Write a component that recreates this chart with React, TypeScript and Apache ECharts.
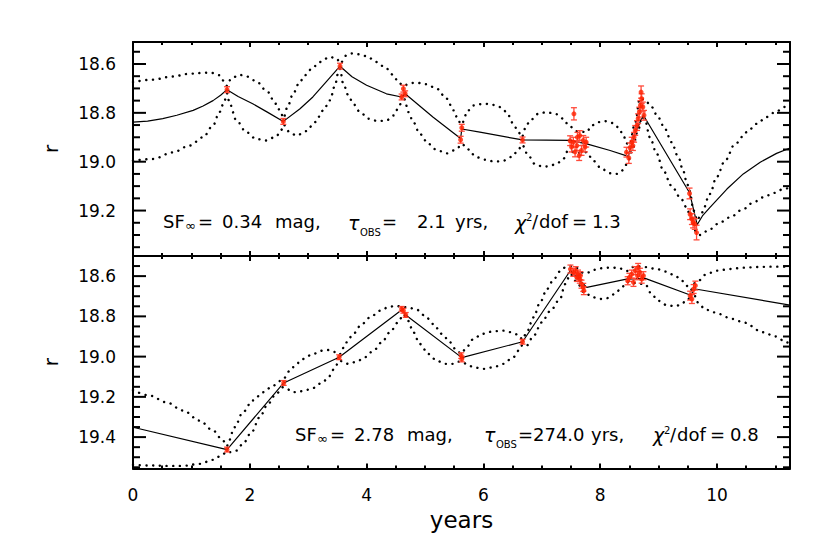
import React, { useEffect, useRef } from "react";
import * as echarts from "echarts";

// ---------------- DATA ----------------
const X_MIN = 0;
const X_MAX = 11.25;
const TOP_Y_RANGE = [18.51, 19.386];
const BOT_Y_RANGE = [18.5, 19.556];

// y tick values (0.2 major, 0.05 minor)
const topYTicks = [
  18.55, 18.6, 18.65, 18.7, 18.75, 18.8, 18.85, 18.9, 18.95, 19.0,
  19.05, 19.1, 19.15, 19.2, 19.25, 19.3, 19.35,
];
const botYTicks = [
  18.55, 18.6, 18.65, 18.7, 18.75, 18.8, 18.85, 18.9, 18.95, 19.0,
  19.05, 19.1, 19.15, 19.2, 19.25, 19.3, 19.35, 19.4, 19.45, 19.5, 19.55,
];

// observations [year, r mag, error]
const topObs: [number, number, number][] = [
  [1.61, 18.705, 0.012], [2.574, 18.835, 0.012], [3.545, 18.609, 0.012],
  [4.6, 18.735, 0.012], [4.63, 18.701, 0.014], [4.66, 18.722, 0.012],
  [5.61, 18.91, 0.014], [5.63, 18.861, 0.014], [6.67, 18.911, 0.012],
  [7.485, 18.914, 0.02], [7.51, 18.94, 0.02], [7.54, 18.92, 0.02], [7.55, 18.804, 0.025],
  [7.57, 18.96, 0.02], [7.6, 18.934, 0.02], [7.61, 18.9, 0.02], [7.64, 18.975, 0.02],
  [7.65, 18.893, 0.02], [7.68, 18.954, 0.02], [7.71, 18.913, 0.02], [7.74, 18.94, 0.02],
  [7.76, 18.92, 0.02],
  [8.45, 18.961, 0.02], [8.49, 18.985, 0.022], [8.51, 18.943, 0.02], [8.54, 18.92, 0.02],
  [8.56, 18.934, 0.02], [8.58, 18.9, 0.02], [8.6, 18.872, 0.02], [8.63, 18.852, 0.02],
  [8.65, 18.824, 0.02], [8.67, 18.797, 0.02], [8.69, 18.77, 0.02], [8.7, 18.715, 0.025],
  [8.71, 18.742, 0.02], [8.73, 18.776, 0.02], [8.75, 18.81, 0.02],
  [9.53, 19.13, 0.022], [9.54, 19.215, 0.022], [9.57, 19.235, 0.022], [9.59, 19.249, 0.022],
  [9.62, 19.255, 0.022], [9.65, 19.29, 0.03],
];

const botObs: [number, number, number][] = [
  [1.61, 19.462, 0.012], [2.58, 19.131, 0.012], [3.53, 19.003, 0.012],
  [4.6, 18.763, 0.012], [4.63, 18.772, 0.012], [4.67, 18.793, 0.012],
  [5.62, 18.995, 0.014], [5.63, 19.012, 0.014], [6.67, 18.926, 0.012],
  [7.49, 18.565, 0.02], [7.54, 18.581, 0.02], [7.58, 18.573, 0.02], [7.6, 18.606, 0.02],
  [7.62, 18.59, 0.02], [7.65, 18.615, 0.02], [7.66, 18.598, 0.02], [7.68, 18.64, 0.02],
  [7.71, 18.656, 0.02], [7.72, 18.672, 0.02],
  [8.47, 18.623, 0.02], [8.5, 18.606, 0.02], [8.54, 18.59, 0.02], [8.57, 18.631, 0.02],
  [8.6, 18.573, 0.02], [8.64, 18.598, 0.02], [8.65, 18.557, 0.02], [8.68, 18.581, 0.02],
  [8.71, 18.615, 0.02], [8.74, 18.598, 0.02],
  [9.54, 18.697, 0.022], [9.57, 18.714, 0.022], [9.6, 18.664, 0.022], [9.63, 18.647, 0.022],
];

// model light curves (solid) and +/- 1 sigma envelopes (dotted)
const topModel: [number, number][] = [
  [0, 18.838], [0.25, 18.834], [0.51, 18.824], [0.75, 18.81], [1.03, 18.79], [1.2, 18.772],
  [1.37, 18.75], [1.5, 18.728], [1.61, 18.705],
  [1.8, 18.733], [2.05, 18.763], [2.3, 18.797], [2.574, 18.835], [2.86, 18.783], [3.08, 18.735],
  [3.3, 18.675], [3.545, 18.609],
  [3.75, 18.652], [4.0, 18.687], [4.34, 18.722], [4.6, 18.735], [4.66, 18.722], [5.14, 18.818],
  [5.61, 18.905], [5.63, 18.866], [5.94, 18.879], [6.67, 18.911], [7.48, 18.913],
  [7.77, 18.927], [8.17, 18.954], [8.48, 18.978], [8.6, 18.88], [8.74, 18.81],
  [9.53, 19.127], [9.66, 19.258], [9.75, 19.222], [9.88, 19.187], [10.17, 19.112], [10.45, 19.05],
  [10.74, 19.002], [11.02, 18.966], [11.25, 18.944],
];

const topUpper: [number, number][] = [
  [0, 18.674], [0.34, 18.664], [0.68, 18.651], [0.97, 18.64], [1.23, 18.636], [1.37, 18.637],
  [1.48, 18.646], [1.57, 18.674], [1.61, 18.69],
  [1.68, 18.66], [1.82, 18.644], [1.94, 18.651], [2.11, 18.67], [2.28, 18.708], [2.45, 18.763],
  [2.54, 18.804], [2.574, 18.822],
  [2.654, 18.77], [2.74, 18.722], [2.854, 18.674], [2.945, 18.646], [3.088, 18.612], [3.2, 18.592],
  [3.37, 18.571], [3.49, 18.578], [3.545, 18.598],
  [3.66, 18.564], [3.75, 18.557], [3.86, 18.56], [4.0, 18.568], [4.17, 18.592], [4.34, 18.619],
  [4.46, 18.646], [4.54, 18.674], [4.63, 18.69],
  [4.75, 18.678], [4.86, 18.677], [5.03, 18.683], [5.2, 18.701], [5.37, 18.742], [5.49, 18.79],
  [5.57, 18.831], [5.62, 18.848],
  [5.74, 18.79], [5.83, 18.77], [5.91, 18.765], [6.03, 18.763], [6.14, 18.766], [6.26, 18.774],
  [6.34, 18.787], [6.43, 18.811], [6.51, 18.845], [6.6, 18.879], [6.66, 18.9],
  [6.71, 18.866], [6.8, 18.831], [6.94, 18.804], [7.08, 18.797], [7.23, 18.804], [7.37, 18.824],
  [7.46, 18.852], [7.6, 18.875], [7.77, 18.879],
  [7.85, 18.852], [7.97, 18.838], [8.11, 18.834], [8.22, 18.842], [8.31, 18.859], [8.4, 18.893],
  [8.45, 18.925], [8.5, 18.93], [8.6, 18.84], [8.68, 18.74], [8.76, 18.745],
  [8.88, 18.776], [8.99, 18.818], [9.11, 18.866], [9.22, 18.92], [9.34, 18.982], [9.42, 19.037],
  [9.49, 19.091], [9.53, 19.12], [9.6, 19.2], [9.66, 19.24],
  [9.74, 19.208], [9.88, 19.132], [9.99, 19.064], [10.14, 18.995], [10.31, 18.927], [10.51, 18.879],
  [10.68, 18.845], [10.85, 18.817], [11.02, 18.793], [11.19, 18.774], [11.25, 18.77],
];

const topLower: [number, number][] = [
  [0, 18.996], [0.34, 18.989], [0.68, 18.962], [0.97, 18.934], [1.2, 18.9], [1.37, 18.852],
  [1.48, 18.797], [1.57, 18.749], [1.61, 18.72],
  [1.655, 18.763], [1.77, 18.831], [1.94, 18.879], [2.11, 18.907], [2.28, 18.913], [2.45, 18.897],
  [2.54, 18.87], [2.574, 18.848],
  [2.683, 18.879], [2.797, 18.893], [2.968, 18.875], [3.116, 18.838], [3.26, 18.79], [3.37, 18.749],
  [3.46, 18.688], [3.51, 18.64], [3.545, 18.62],
  [3.6, 18.681], [3.69, 18.729], [3.77, 18.763], [3.89, 18.797], [4.03, 18.824], [4.2, 18.834],
  [4.34, 18.831], [4.46, 18.811], [4.54, 18.783], [4.6, 18.756], [4.65, 18.745],
  [4.715, 18.797], [4.8, 18.838], [4.91, 18.886], [5.06, 18.927], [5.2, 18.952], [5.37, 18.966],
  [5.49, 18.954], [5.57, 18.941], [5.63, 18.927],
  [5.71, 18.941], [5.8, 18.968], [5.89, 18.982], [6.03, 18.992], [6.2, 19.0], [6.34, 18.996],
  [6.49, 18.98], [6.6, 18.951], [6.66, 18.93],
  [6.77, 18.975], [6.88, 19.009], [7.0, 19.019], [7.11, 19.02], [7.25, 19.009], [7.37, 18.988],
  [7.45, 18.954], [7.6, 18.965], [7.77, 18.961],
  [7.88, 18.996], [8.03, 19.03], [8.17, 19.047], [8.28, 19.05], [8.37, 19.037], [8.43, 19.016],
  [8.48, 18.995], [8.55, 18.95], [8.65, 18.87], [8.72, 18.815], [8.77, 18.831],
  [8.85, 18.9], [8.97, 18.968], [9.08, 19.036], [9.22, 19.098], [9.37, 19.146], [9.48, 19.187],
  [9.55, 19.23], [9.65, 19.29],
  [9.71, 19.3], [9.88, 19.276], [10.05, 19.249], [10.22, 19.228], [10.45, 19.194], [10.62, 19.167],
  [10.79, 19.146], [10.97, 19.128], [11.14, 19.112], [11.25, 19.105],
];

const botModel: [number, number][] = [
  [0, 19.351], [1.61, 19.462], [2.58, 19.131], [3.53, 19.003], [4.61, 18.766], [4.67, 18.793],
  [5.63, 19.005], [6.67, 18.926], [7.49, 18.572], [7.77, 18.656], [8.45, 18.615], [8.77, 18.611],
  [9.54, 18.694], [9.63, 18.664], [11.25, 18.744],
];

const botUpper: [number, number][] = [
  [0, 19.166], [0.29, 19.194], [0.57, 19.227], [0.86, 19.268], [1.14, 19.318], [1.37, 19.367],
  [1.54, 19.417], [1.61, 19.445],
  [1.63, 19.425], [1.74, 19.351], [1.88, 19.277], [2.05, 19.218], [2.23, 19.177], [2.4, 19.144],
  [2.54, 19.119],
  [2.74, 19.053], [2.91, 19.012], [3.08, 18.987], [3.25, 18.97], [3.37, 18.967], [3.49, 18.98],
  [3.53, 18.99],
  [3.66, 18.929], [3.77, 18.887], [3.92, 18.838], [4.06, 18.805], [4.23, 18.772], [4.37, 18.755],
  [4.49, 18.747], [4.6, 18.752],
  [4.7, 18.755], [4.86, 18.767], [5.0, 18.797], [5.14, 18.838], [5.29, 18.887], [5.43, 18.929],
  [5.54, 18.97], [5.62, 18.985],
  [5.72, 18.95], [5.83, 18.912], [5.98, 18.887], [6.17, 18.874], [6.34, 18.871], [6.48, 18.879],
  [6.6, 18.892], [6.67, 18.915],
  [6.74, 18.879], [6.86, 18.805], [6.97, 18.731], [7.09, 18.664], [7.2, 18.618], [7.31, 18.577],
  [7.4, 18.557], [7.49, 18.55], [7.6, 18.56], [7.72, 18.585],
  [7.83, 18.581], [7.94, 18.565], [8.05, 18.56], [8.2, 18.557], [8.34, 18.562], [8.45, 18.575],
  [8.6, 18.55], [8.77, 18.555],
  [8.97, 18.565], [9.14, 18.578], [9.28, 18.598], [9.4, 18.623], [9.48, 18.648], [9.55, 18.67],
  [9.62, 18.635], [9.68, 18.623], [9.82, 18.59], [9.99, 18.573], [10.22, 18.565], [10.45, 18.558],
  [10.68, 18.555], [10.91, 18.553], [11.25, 18.553],
];

const botLower: [number, number][] = [
  [0, 19.538], [0.29, 19.541], [0.57, 19.543], [0.86, 19.543], [1.14, 19.533], [1.37, 19.513],
  [1.51, 19.492], [1.61, 19.472],
  [1.655, 19.475], [1.77, 19.467], [1.88, 19.434], [2.03, 19.376], [2.17, 19.301], [2.31, 19.235],
  [2.45, 19.185], [2.57, 19.152],
  [2.63, 19.16], [2.74, 19.177], [2.91, 19.172], [3.08, 19.156], [3.25, 19.127], [3.35, 19.1],
  [3.45, 19.06], [3.53, 19.02],
  [3.69, 19.036], [3.83, 19.025], [3.97, 19.003], [4.12, 18.97], [4.26, 18.929], [4.4, 18.879],
  [4.54, 18.83], [4.63, 18.79],
  [4.71, 18.822], [4.8, 18.879], [4.91, 18.937], [5.06, 18.987], [5.2, 19.02], [5.34, 19.036],
  [5.49, 19.036], [5.57, 19.025], [5.63, 19.025],
  [5.71, 19.036], [5.83, 19.053], [6.0, 19.061], [6.17, 19.053], [6.34, 19.036], [6.51, 19.003],
  [6.63, 18.962], [6.67, 18.94],
  [6.74, 18.945], [6.86, 18.896], [7.0, 18.83], [7.14, 18.775], [7.31, 18.715], [7.4, 18.64],
  [7.49, 18.59], [7.6, 18.63], [7.72, 18.68],
  [7.88, 18.705], [7.99, 18.714], [8.11, 18.71], [8.25, 18.689], [8.37, 18.656], [8.45, 18.63],
  [8.6, 18.635], [8.77, 18.64],
  [8.88, 18.689], [8.99, 18.722], [9.14, 18.744], [9.28, 18.75], [9.4, 18.739], [9.48, 18.714],
  [9.55, 18.71], [9.63, 18.7],
  [9.68, 18.735], [9.8, 18.765], [9.94, 18.78], [10.28, 18.813], [10.45, 18.83], [10.79, 18.879],
  [11.0, 18.9], [11.19, 18.929], [11.25, 18.935],
];

// annotation texts
const topStats = { sf: "0.34", tau: "2.1", chi: "1.3" };
const botStats = { sf: "2.78", tau: "274.0", chi: "0.8" };

// ---------------- STYLE ----------------
const FONT = "DejaVu Sans";
const PT_COLOR = "#ff2200";
const ERR_COLOR = "#ff4a3a";
const AX_W = 2;

const GRID_LEFT = 133;
const GRID_W = 657;
const TOP_GRID = { top: 42, height: 214 };
const BOT_GRID = { top: 256, height: 212.5 };

const isMajorY = (v: number) => Math.abs(v * 5 - Math.round(v * 5)) < 1e-6;

function xAxis(grid: number, pos: string, major: boolean, labels: boolean) {
  return {
    type: "value",
    gridIndex: grid,
    position: pos,
    min: X_MIN,
    max: X_MAX,
    interval: major ? 2 : 0.5,
    axisLine: { show: major, onZero: false, lineStyle: { color: "#000", width: AX_W } },
    axisTick: { show: true, inside: true, length: major ? 5 : 3, lineStyle: { color: "#000", width: AX_W } },
    axisLabel: labels
      ? {
          show: true,
          margin: 18,
          fontSize: 17,
          fontFamily: FONT,
          color: "#000",
          showMaxLabel: false,
          formatter: (v: number) => (Math.abs(v / 2 - Math.round(v / 2)) < 1e-6 ? String(Math.round(v)) : ""),
        }
      : { show: false },
    name: labels ? "years" : "",
    nameLocation: "middle",
    nameGap: 40,
    nameTextStyle: { fontSize: 23, fontFamily: FONT, color: "#000" },
    splitLine: { show: false },
    minorTick: { show: false },
    minorSplitLine: { show: false },
  };
}

function yAxis(grid: number, pos: string, labels: boolean, range: number[]) {
  return {
    type: "value",
    gridIndex: grid,
    position: pos,
    inverse: true,
    min: range[0],
    max: range[1],
    minInterval: 0.2,
    maxInterval: 0.2,
    splitNumber: 4,
    axisLine: { show: true, onZero: false, lineStyle: { color: "#000", width: AX_W } },
    axisTick: { show: false },
    axisLabel: labels
      ? {
          show: true,
          margin: 17,
          fontSize: 17,
          fontFamily: FONT,
          color: "#000",
          showMinLabel: false,
          showMaxLabel: false,
          formatter: (v: number) => (isMajorY(v) ? v.toFixed(1) : ""),
        }
      : { show: false },
    name: labels ? "r" : "",
    nameLocation: "middle",
    nameRotate: 90,
    nameGap: 72,
    nameTextStyle: { fontSize: 20, fontFamily: FONT, color: "#000" },
    splitLine: { show: false },
    minorTick: { show: false },
    minorSplitLine: { show: false },
  };
}

function panelSeries(
  xi: number,
  yi: number,
  obs: [number, number, number][],
  model: [number, number][],
  up: [number, number][],
  lo: [number, number][],
  yTicks: number[]
) {
  const dotted = {
    type: "line",
    xAxisIndex: xi,
    yAxisIndex: yi,
    showSymbol: false,
    symbol: "none",
    smooth: 0.35,
    smoothMonotone: "x",
    silent: true,
    lineStyle: { color: "#000", width: 2.4, type: [0.1, 6.6], cap: "round" },
    z: 2,
  };
  const tickStyle = { stroke: "#000", lineWidth: AX_W };
  return [
    { ...dotted, data: up },
    { ...dotted, data: lo },
    {
      type: "line",
      xAxisIndex: xi,
      yAxisIndex: yi,
      data: model,
      showSymbol: false,
      symbol: "none",
      smooth: false,
      silent: true,
      lineStyle: { color: "#000", width: 1.2 },
      z: 3,
    },
    {
      type: "custom",
      xAxisIndex: xi,
      yAxisIndex: yi,
      data: obs,
      encode: { x: 0, y: 1 },
      z: 4,
      silent: true,
      renderItem: (_p: any, api: any) => {
        const x = api.value(0);
        const y = api.value(1);
        const e = api.value(2);
        const a = api.coord([x, y - e]);
        const b = api.coord([x, y + e]);
        const st = { stroke: ERR_COLOR, lineWidth: 1.3 };
        return {
          type: "group",
          children: [
            { type: "line", shape: { x1: a[0], y1: a[1], x2: a[0], y2: b[1] }, style: st },
            { type: "line", shape: { x1: a[0] - 3, y1: a[1], x2: a[0] + 3, y2: a[1] }, style: st },
            { type: "line", shape: { x1: a[0] - 3, y1: b[1], x2: a[0] + 3, y2: b[1] }, style: st },
          ],
        };
      },
    },
    {
      type: "scatter",
      xAxisIndex: xi,
      yAxisIndex: yi,
      data: obs.map((d) => [d[0], d[1]]),
      symbol: "circle",
      symbolSize: 5,
      itemStyle: { color: PT_COLOR },
      silent: true,
      z: 5,
    },
    {
      // inward y-axis tick marks on left and right frame edges
      type: "custom",
      xAxisIndex: xi,
      yAxisIndex: yi,
      data: yTicks.map((v) => [X_MIN, v]),
      encode: { x: 0, y: 1 },
      z: 6,
      silent: true,
      renderItem: (_p: any, api: any) => {
        const v = api.value(1);
        const L = api.coord([X_MIN, v]);
        const R = api.coord([X_MAX, v]);
        const len = isMajorY(v) ? 13 : 7;
        return {
          type: "group",
          children: [
            { type: "line", shape: { x1: L[0], y1: L[1], x2: L[0] + len, y2: L[1] }, style: tickStyle },
            { type: "line", shape: { x1: R[0] - len, y1: R[1], x2: R[0], y2: R[1] }, style: tickStyle },
          ],
        };
      },
    },
  ];
}

function statsText(
  s: { sf: string; tau: string; chi: string },
  cy: number,
  sfX: number,
  tauX: number,
  chiX: number,
  valTau: number,
  yrsTau: number
) {
  const base = { fontFamily: FONT, fill: "#000", align: "left", verticalAlign: "middle" };
  const t = (text: string, x: number, y: number, fontSize: number, italic = false) => ({
    type: "text",
    x,
    y,
    silent: true,
    style: { ...base, text, fontSize, fontStyle: italic ? "italic" : "normal" },
  });
  return [
    t("SF", sfX, cy, 18),
    t("∞", sfX + 22, cy + 4, 13),
    t("=", sfX + 35, cy, 18),
    t(s.sf, sfX + 59, cy, 18),
    t("mag,", sfX + 112, cy, 18),
    t("τ", tauX, cy + 1, 19, true),
    t("OBS", tauX + 12, cy + 10.5, 10),
    t("=", tauX + 34, cy, 18),
    t(s.tau, tauX + valTau, cy, 18),
    t("yrs,", tauX + yrsTau, cy, 18),
    t("χ", chiX, cy + 1, 19, true),
    t("2", chiX + 11, cy - 4, 10),
    t("/", chiX + 17, cy, 18),
    t("dof", chiX + 24, cy, 18),
    t("=", chiX + 57, cy, 18),
    t(s.chi, chiX + 77, cy, 18),
  ];
}

export default function App() {
  const ref = useRef<HTMLDivElement>(null);
  useEffect(() => {
    if (!ref.current) return;
    const chart = echarts.init(ref.current, null, { renderer: "svg" });
    const option: any = {
      animation: false,
      backgroundColor: "#fff",
      grid: [
        { left: GRID_LEFT, width: GRID_W, top: TOP_GRID.top, height: TOP_GRID.height, containLabel: false },
        { left: GRID_LEFT, width: GRID_W, top: BOT_GRID.top, height: BOT_GRID.height, containLabel: false },
      ],
      xAxis: [
        xAxis(0, "bottom", true, false),
        xAxis(0, "bottom", false, false),
        xAxis(0, "top", true, false),
        xAxis(0, "top", false, false),
        xAxis(1, "bottom", true, true),
        xAxis(1, "bottom", false, false),
        xAxis(1, "top", true, false),
        xAxis(1, "top", false, false),
      ],
      yAxis: [
        yAxis(0, "left", true, TOP_Y_RANGE),
        yAxis(0, "right", false, TOP_Y_RANGE),
        yAxis(1, "left", true, BOT_Y_RANGE),
        yAxis(1, "right", false, BOT_Y_RANGE),
      ],
      series: [
        ...panelSeries(0, 0, topObs, topModel, topUpper, topLower, topYTicks),
        ...panelSeries(4, 2, botObs, botModel, botUpper, botLower, botYTicks),
      ],
      graphic: [
        ...statsText(topStats, 221.5, 163, 348, 515, 69, 107),
        ...statsText(botStats, 434, 295, 484, 653, 49, 107),
      ],
    };
    chart.setOption(option);
    return () => chart.dispose();
  }, []);
  return (
    <div
      ref={ref}
      style={{ position: "fixed", left: 0, top: 0, width: 830, height: 554, background: "#fff" }}
    />
  );
}
